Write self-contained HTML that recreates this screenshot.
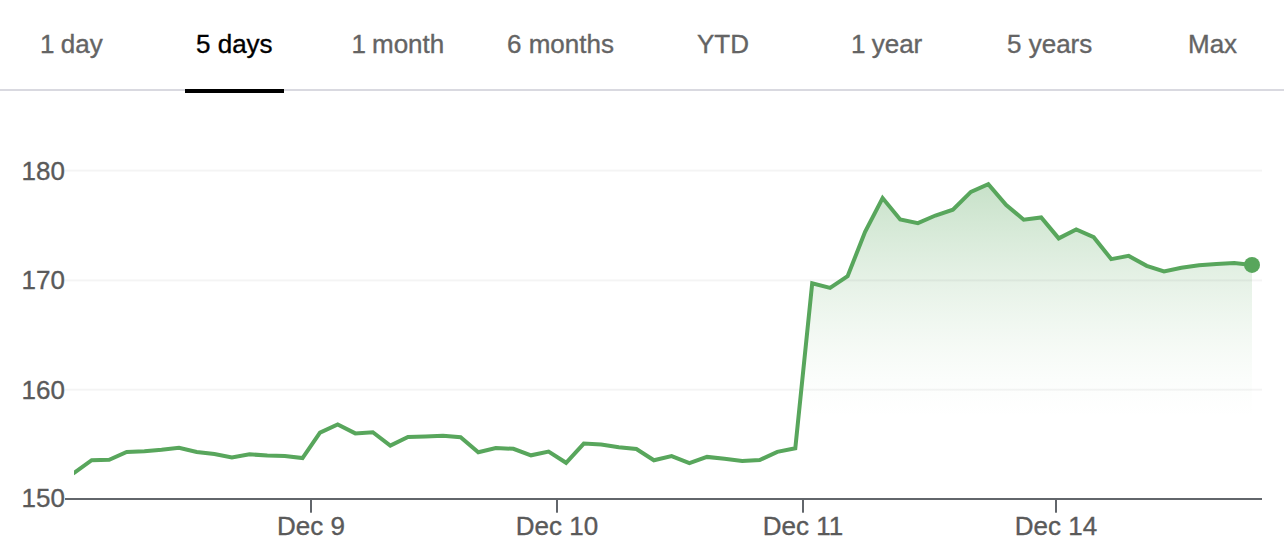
<!DOCTYPE html>
<html><head><meta charset="utf-8"><title>Chart</title>
<style>
html,body{margin:0;padding:0;background:#fff;}
body{width:1284px;height:557px;overflow:hidden;position:relative;font-family:"Liberation Sans",Arial,sans-serif;}
.tabs{position:absolute;left:0;top:0;width:1284px;height:89px;border-bottom:2px solid #d9d9e0;}
.tab{position:absolute;top:29px;font-size:26px;line-height:30px;color:#646464;white-space:nowrap;-webkit-text-stroke:0.35px currentColor;}
.tab.on{color:#000;}
.ind{position:absolute;left:185px;top:89px;width:99px;height:4px;background:#000;}
svg{position:absolute;left:0;top:0;}
svg text{font-family:"Liberation Sans",Arial,sans-serif;font-size:26px;fill:#5a5a5a;stroke:#5a5a5a;stroke-width:0.35px;}
</style></head><body>
<div class="tabs">
<span class="tab" style="left:40px;word-spacing:-0.9px">1 day</span>
<span class="tab on" style="left:196px">5 days</span>
<span class="tab" style="left:351.6px;word-spacing:-1.3px">1 month</span>
<span class="tab" style="left:507px">6 months</span>
<span class="tab" style="left:697px">YTD</span>
<span class="tab" style="left:851px;word-spacing:-1px">1 year</span>
<span class="tab" style="left:1007px">5 years</span>
<span class="tab" style="left:1188px">Max</span>
</div>
<div class="ind"></div>
<svg width="1284" height="557" viewBox="0 0 1284 557">
<defs><linearGradient id="g" gradientUnits="userSpaceOnUse" x1="0" y1="184" x2="0" y2="420">
<stop offset="0.0000" stop-color="#58a65c" stop-opacity="0.3350"/>
<stop offset="0.0625" stop-color="#58a65c" stop-opacity="0.3041"/>
<stop offset="0.1250" stop-color="#58a65c" stop-opacity="0.2742"/>
<stop offset="0.1875" stop-color="#58a65c" stop-opacity="0.2453"/>
<stop offset="0.2500" stop-color="#58a65c" stop-opacity="0.2176"/>
<stop offset="0.3125" stop-color="#58a65c" stop-opacity="0.1910"/>
<stop offset="0.3750" stop-color="#58a65c" stop-opacity="0.1655"/>
<stop offset="0.4375" stop-color="#58a65c" stop-opacity="0.1413"/>
<stop offset="0.5000" stop-color="#58a65c" stop-opacity="0.1184"/>
<stop offset="0.5625" stop-color="#58a65c" stop-opacity="0.0969"/>
<stop offset="0.6250" stop-color="#58a65c" stop-opacity="0.0769"/>
<stop offset="0.6875" stop-color="#58a65c" stop-opacity="0.0585"/>
<stop offset="0.7500" stop-color="#58a65c" stop-opacity="0.0419"/>
<stop offset="0.8125" stop-color="#58a65c" stop-opacity="0.0272"/>
<stop offset="0.8750" stop-color="#58a65c" stop-opacity="0.0148"/>
<stop offset="0.9375" stop-color="#58a65c" stop-opacity="0.0052"/>
<stop offset="1.0000" stop-color="#58a65c" stop-opacity="0.0000"/>
</linearGradient><clipPath id="c"><rect x="74" y="100" width="1200" height="420"/></clipPath></defs>
<path d="M57.2,484.9 L74.8,472.3 L91.7,460.2 L109.2,459.8 L126.7,452.0 L144.4,451.2 L161.6,449.7 L179.0,447.7 L196.7,452.0 L214.4,454.0 L231.9,457.5 L249.5,454.3 L267.3,455.6 L284.8,456.1 L302.5,458.1 L320.0,432.7 L337.7,424.4 L355.3,433.4 L372.8,432.2 L390.3,445.6 L408.0,436.9 L425.5,436.4 L443.0,435.8 L460.6,437.3 L478.3,452.2 L495.8,448.0 L513.4,448.8 L531.0,455.3 L548.6,451.6 L566.1,462.8 L583.8,443.6 L601.2,444.5 L618.8,447.2 L636.4,449.0 L653.9,460.3 L671.6,456.1 L689.4,463.1 L707.0,456.9 L724.5,458.8 L742.2,461.1 L759.7,460.0 L777.3,451.9 L795.3,448.3 L812.2,283.2 L830.1,287.9 L847.6,276.2 L865.1,231.8 L882.6,198.0 L900.2,219.5 L917.9,223.2 L935.4,215.5 L952.9,209.7 L970.9,191.9 L988.3,184.2 L1006.2,205.0 L1023.7,219.7 L1041.2,217.4 L1058.7,238.4 L1076.2,229.5 L1093.7,237.2 L1111.2,259.1 L1128.7,255.9 L1146.7,265.8 L1164.0,271.4 L1181.4,267.7 L1199.0,265.2 L1216.5,264.0 L1234.2,263.0 L1252.0,264.9 L1252,498 L57.2,498 Z" fill="url(#g)" clip-path="url(#c)"/>
<g fill="#000" fill-opacity="0.042">
<rect x="65" y="169.6" width="1197" height="2"/>
<rect x="65" y="279.4" width="1197" height="2"/>
<rect x="65" y="388.7" width="1197" height="2"/>
</g>
<rect x="65" y="498" width="1197" height="2" fill="#62666b"/>
<g fill="#62666b">
<rect x="310" y="498" width="2" height="14.7"/>
<rect x="556" y="498" width="2" height="14.7"/>
<rect x="802" y="498" width="2" height="14.7"/>
<rect x="1055" y="498" width="2" height="14.7"/>
</g>
<path d="M57.2,484.9 L74.8,472.3 L91.7,460.2 L109.2,459.8 L126.7,452.0 L144.4,451.2 L161.6,449.7 L179.0,447.7 L196.7,452.0 L214.4,454.0 L231.9,457.5 L249.5,454.3 L267.3,455.6 L284.8,456.1 L302.5,458.1 L320.0,432.7 L337.7,424.4 L355.3,433.4 L372.8,432.2 L390.3,445.6 L408.0,436.9 L425.5,436.4 L443.0,435.8 L460.6,437.3 L478.3,452.2 L495.8,448.0 L513.4,448.8 L531.0,455.3 L548.6,451.6 L566.1,462.8 L583.8,443.6 L601.2,444.5 L618.8,447.2 L636.4,449.0 L653.9,460.3 L671.6,456.1 L689.4,463.1 L707.0,456.9 L724.5,458.8 L742.2,461.1 L759.7,460.0 L777.3,451.9 L795.3,448.3 L812.2,283.2 L830.1,287.9 L847.6,276.2 L865.1,231.8 L882.6,198.0 L900.2,219.5 L917.9,223.2 L935.4,215.5 L952.9,209.7 L970.9,191.9 L988.3,184.2 L1006.2,205.0 L1023.7,219.7 L1041.2,217.4 L1058.7,238.4 L1076.2,229.5 L1093.7,237.2 L1111.2,259.1 L1128.7,255.9 L1146.7,265.8 L1164.0,271.4 L1181.4,267.7 L1199.0,265.2 L1216.5,264.0 L1234.2,263.0 L1252.0,264.9" fill="none" stroke="#58a65c" stroke-width="4" stroke-linejoin="miter" clip-path="url(#c)"/>
<circle cx="1252" cy="264.9" r="8" fill="#58a65c"/>
<g text-anchor="end">
<text x="65" y="179.9">180</text>
<text x="65" y="289.4">170</text>
<text x="65" y="398.9">160</text>
<text x="65" y="507.4">150</text>
</g>
<g text-anchor="middle">
<text x="311" y="534.6">Dec 9</text>
<text x="557" y="534.6">Dec 10</text>
<text x="803" y="534.6">Dec 11</text>
<text x="1056" y="534.6">Dec 14</text>
</g>
</svg>
</body></html>
